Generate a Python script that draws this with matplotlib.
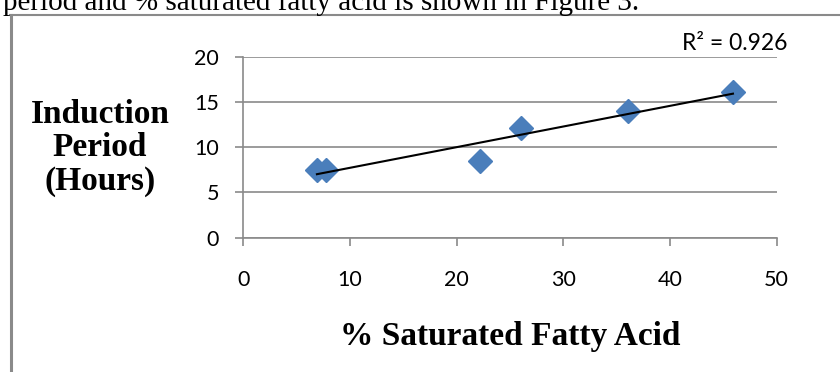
import numpy as np
import matplotlib
matplotlib.use("Agg")
import matplotlib.pyplot as plt
from matplotlib.lines import Line2D

# Data: % saturated fatty acid vs induction period (hours)
sat_fatty_acid = [6.9, 7.75, 22.2, 26.0, 36.1, 45.9]
induction_hours = [7.5, 7.5, 8.5, 12.1, 14.0, 16.1]
x_ticks = [0, 10, 20, 30, 40, 50]
y_ticks = [0, 5, 10, 15, 20]
r2_label = "R² = 0.926"

GRAY = "#8a8a8a"
BLUE = "#4a7ebb"

fig = plt.figure(figsize=(8.4, 3.72), dpi=100)
W, H = 840, 372

def fx(px):
    return px / W

def fy(py):
    return 1 - py / H

# Surrounding document text and chart frame
fig.text(fx(3), fy(10), "period and % saturated fatty acid is shown in Figure 3.",
         family="Liberation Serif", fontsize=21, ha="left", va="baseline")
fig.add_artist(Line2D([fx(10), 1.0], [fy(15), fy(15)], color=GRAY, lw=1.5,
                      transform=fig.transFigure))
fig.add_artist(Line2D([fx(10.5), fx(10.5)], [fy(15), 0.0], color=GRAY, lw=2.2,
                      transform=fig.transFigure))

ax = fig.add_axes([fx(243.3), fy(237.7), (776.7 - 243.3) / W, (237.7 - 56.7) / H])
ax.set_xlim(0, 50)
ax.set_ylim(0, 20)
ax.set_xticks(x_ticks)
ax.set_yticks(y_ticks)
ax.yaxis.grid(True, color=GRAY, lw=1.2)
ax.set_axisbelow(True)
for side in ("top", "right"):
    ax.spines[side].set_visible(False)
for side in ("left", "bottom"):
    ax.spines[side].set_color(GRAY)
    ax.spines[side].set_linewidth(1.2)
ax.tick_params(axis="both", colors=GRAY, labelcolor="black", width=1.2,
               length=5.5, labelsize=15.5)
ax.tick_params(axis="x", pad=18)
ax.tick_params(axis="y", pad=12)
for lbl in ax.get_xticklabels() + ax.get_yticklabels():
    lbl.set_family("Lato")

# Scatter points
ax.plot(sat_fatty_acid, induction_hours, linestyle="none", marker="D",
        markersize=12, color=BLUE, markeredgecolor=BLUE, zorder=3)

# Linear trendline over the data range
x = np.array(sat_fatty_acid)
y = np.array(induction_hours)
slope, intercept = np.polyfit(x, y, 1)
xs = np.array([x.min(), x.max()])
ax.plot(xs, slope * xs + intercept, color="black", lw=1.5, zorder=4)

fig.text(fx(735), fy(50), r2_label, family="Lato", fontsize=16.5,
         ha="center", va="baseline")

# Axis titles
fig.text(fx(100), fy(148), "Induction\nPeriod\n(Hours)", family="Liberation Serif",
         fontweight="bold", fontsize=24, ha="center", va="center",
         multialignment="center", linespacing=1.1)
fig.text(fx(510), fy(345), "% Saturated Fatty Acid", family="Liberation Serif",
         fontweight="bold", fontsize=24, ha="center", va="baseline")

fig.savefig("out.png", dpi=100)
